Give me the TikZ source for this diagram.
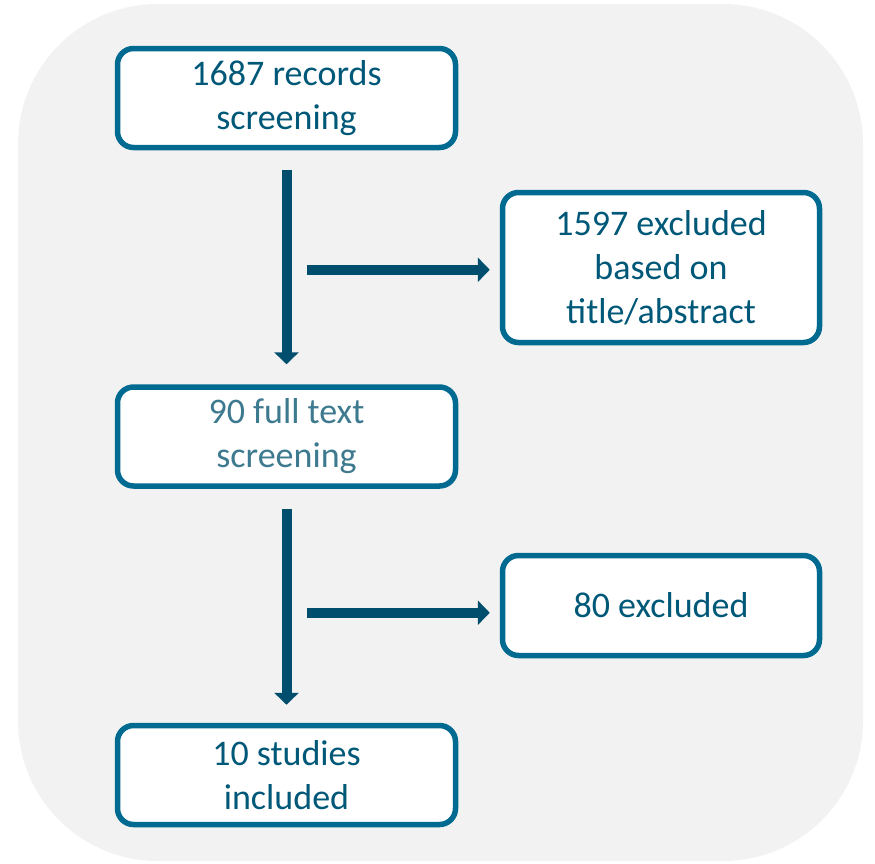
\documentclass[tikz,border=0pt]{standalone}
\usepackage{fontspec}
\setmainfont{Carlito}
\usetikzlibrary{arrows.meta,calc,positioning}
\definecolor{boxline}{HTML}{006A91}
\definecolor{arrowcol}{HTML}{004E6E}
\definecolor{txtdark}{HTML}{005878}
\definecolor{txtlight}{HTML}{3E7A8F}
\definecolor{bgcol}{HTML}{F2F2F2}

\begin{document}
\begin{tikzpicture}[x=1pt,y=-1pt]
				\tikzstyle{flowbox}=[draw=boxline,fill=white,line width=5.5pt,rounded corners=16pt,
				  align=center,font=\fontsize{36}{44}\selectfont,text=txtdark,inner sep=0pt]
				\tikzstyle{leftbox}=[flowbox,minimum width=338pt,minimum height=99pt]
				\tikzstyle{rightbox}=[flowbox,minimum width=317pt,minimum height=99pt]
				\tikzstyle{fatarrow}=[draw=arrowcol,line width=10pt,
				  -{Triangle[width=24pt,length=12pt,fill=arrowcol]}]

				%% Background panel
				\useasboundingbox (0,0) rectangle (875,863);
				\fill [bgcol,rounded corners=140pt] (18,4) rectangle (863,861);

				%% Boxes
				\node [leftbox] (records) at (286.5,98) {1687 records\\screening};
				\node [rightbox,minimum height=150pt] (excl1) at (661,267.5) {1597 excluded\\based on\\title/abstract};
				\node [leftbox,text=txtlight] (fulltext) at (286.5,436.5) {90 full text\\screening};
				\node [rightbox,minimum height=100pt] (excl2) at (661,605.5) {80 excluded};
				\node [leftbox] (included) at (286.5,775) {10 studies\\included};

				%% Arrows
				\coordinate (split1) at ($(records.south)+(20.5,119.5)$);
				\coordinate (split2) at ($(fulltext.south)+(20.5,124)$);
				\draw [fatarrow] ([yshift=-20pt]records.south) -- ([yshift=20pt]fulltext.north);
				\draw [fatarrow] (split1) -- ([xshift=-10pt]excl1.west |- split1);
				\draw [fatarrow] ([yshift=-20pt]fulltext.south) -- ([yshift=18pt]included.north);
				\draw [fatarrow] (split2) -- ([xshift=-10pt]excl2.west |- split2);
			\end{tikzpicture}
\end{document}
